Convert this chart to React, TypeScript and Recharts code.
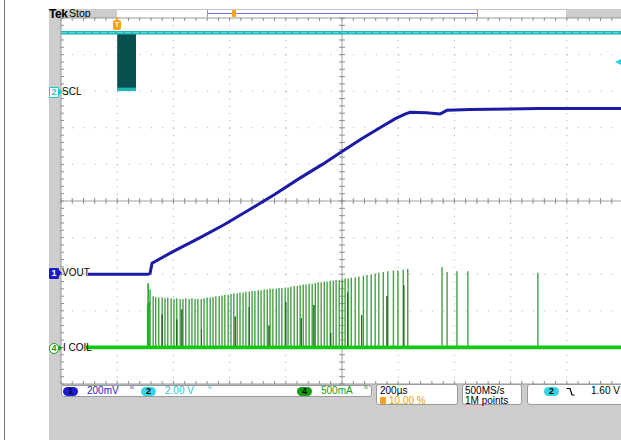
import React from 'react';
import { ComposedChart, Line, XAxis, YAxis, CartesianGrid, ReferenceLine, ReferenceArea } from 'recharts';

// time in µs from the trigger (trigger at 10 %), 200 µs/div, 10 divs
const T_DOMAIN = [-200, 1800];
const T_DIVS = [-200, 0, 200, 400, 600, 800, 1000, 1200, 1400, 1600, 1800];
// ch1 200 mV/div, ground at div 3 -> also used for the graticule rows
const VOUT_DOMAIN = [-0.6, 1.4];
const VOUT_DIVS = [-0.6, -0.4, -0.2, 0, 0.2, 0.4, 0.6, 0.8, 1.0, 1.2, 1.4];
// ch2 2 V/div, ground at div 8
const SCL_DOMAIN = [-16, 4];
// ch4 500 mA/div, ground at div 1
const COIL_DOMAIN = [-0.5, 4.5];

const VOUT = [
    { t: -104, v: 0 }, { t: 110, v: 0 }, { t: 117, v: 0.005 }, { t: 124, v: 0.06 },
    { t: 200, v: 0.125 }, { t: 295, v: 0.2 }, { t: 380, v: 0.27 }, { t: 473, v: 0.355 },
    { t: 560, v: 0.435 }, { t: 650, v: 0.525 }, { t: 730, v: 0.6 }, { t: 800, v: 0.67 },
    { t: 870, v: 0.74 }, { t: 935, v: 0.8 }, { t: 990, v: 0.85 }, { t: 1024, v: 0.875 },
    { t: 1042, v: 0.885 }, { t: 1100, v: 0.882 }, { t: 1149, v: 0.876 }, { t: 1160, v: 0.884 },
    { t: 1174, v: 0.896 }, { t: 1256, v: 0.9 }, { t: 1500, v: 0.905 }, { t: 1800, v: 0.905 },
];

const SCL_HIGH = 3.2;
const SCL_LOW = 0.1;
const SCL_BURST = [0, 67];
const SCL_HI_LINE = [{ t: -200, v: SCL_HIGH }, { t: 1800, v: SCL_HIGH }];
const SCL_LO_LINE = [{ t: SCL_BURST[0], v: SCL_LOW }, { t: SCL_BURST[1], v: SCL_LOW }];

const COIL_BASE = [{ t: -111, v: 0 }, { t: 1800, v: 0 }];

// [time µs, peak A]
const SPIKES = [
    [110, 0.88], [117, 0.79], [128, 0.7], [137, 0.69], [148, 0.68], [160, 0.68], [170, 0.67], [180, 0.68],
    [192, 0.67], [202, 0.66], [212, 0.67], [224, 0.66], [234, 0.66], [244, 0.67], [256, 0.66], [266, 0.67],
    [277, 0.66], [287, 0.66], [299, 0.66], [309, 0.67], [320, 0.68], [331, 0.68], [341, 0.69], [351, 0.7],
    [363, 0.7], [373, 0.71], [383, 0.72], [395, 0.72], [405, 0.73], [415, 0.74], [427, 0.74], [437, 0.75],
    [448, 0.75], [458, 0.76], [470, 0.76], [480, 0.77], [490, 0.77], [502, 0.78], [512, 0.78], [523, 0.79],
    [534, 0.79], [544, 0.8], [554, 0.8], [566, 0.8], [576, 0.81], [586, 0.81], [598, 0.82], [608, 0.82],
    [618, 0.83], [630, 0.84], [641, 0.84], [651, 0.85], [662, 0.86], [672, 0.86], [683, 0.87], [694, 0.87],
    [705, 0.88], [715, 0.89], [726, 0.89], [737, 0.9], [747, 0.9], [758, 0.91], [769, 0.91], [779, 0.92],
    [790, 0.92], [801, 0.93], [811, 0.94], [822, 0.94], [833, 0.95], [847, 0.96], [860, 0.97], [876, 0.98],
    [889, 0.99], [904, 1.0], [918, 1.01], [931, 1.02], [947, 1.03], [963, 1.04], [983, 1.05], [999, 1.05],
    [1018, 1.06], [1034, 1.07], [1156, 1.1], [1174, 1.03], [1209, 1.04], [1248, 1.04], [1497, 1.02],
];

// darker, shorter traces inside the burst
const DARK_SPIKES = [
    [113, 0.62], [160, 0.45], [212, 0.38], [230, 0.52], [300, 0.25], [420, 0.42], [470, 0.55],
    [540, 0.3], [600, 0.62], [655, 0.4], [700, 0.58], [760, 0.2], [820, 0.75], [870, 0.44],
    [960, 0.7], [1020, 0.85],
];

// bright start of the burst
const FIRST_SPIKES = [[108, 0.6], [111, 0.86], [114, 0.55]];

const toTrace = (list: number[][]) => {
    const out: { t: number; v: number }[] = [];
    list.forEach(([t, a]) => {
        out.push({ t, v: 0 }, { t, v: a }, { t, v: 0 });
    });
    return out;
};
const SPIKE_DATA = toTrace(SPIKES);
const DARK_DATA = toTrace(DARK_SPIKES);
const FIRST_DATA = toTrace(FIRST_SPIKES);

// graticule minor ticks: 5 per division
const X_MINOR = Array.from({ length: 51 }, (_, k) => -200 + k * 40);
const Y_MINOR = Array.from({ length: 51 }, (_, k) => -0.6 + k * 0.04);
const T_CENTER = 800;
const V_CENTER = 0.4;
const TX = 10.7;    // ~3px in µs
const TY = 0.0164;  // ~3px in V

const FONT = '"Liberation Sans", Arial, sans-serif';
const GRAT = '#a8a8a8';

const abs = (l: number, t: number, extra: React.CSSProperties = {}): React.CSSProperties => ({
    position: 'absolute', left: l, top: t, ...extra,
});

function Pill({ x, y, bg, n }: { x: number; y: number; bg: string; n: string }) {
    return (
        <div style={abs(x, y, { width: 15, height: 9, borderRadius: 5, background: bg, color: '#000', fontSize: 9, lineHeight: '9px', textAlign: 'center', fontWeight: 700 })}>{n}</div>
    );
}

function ChMarker({ y, n, color, filled, round }: { y: number; n: string; color: string; filled?: boolean; round?: boolean }) {
    return (
        <>
            <div style={abs(49, y - 5, {
                width: 8, height: 9, border: `1px solid ${color}`, borderRadius: round ? 5 : 1,
                background: filled ? color : '#fff', color: filled ? '#fff' : color,
                fontSize: 9, lineHeight: '9px', textAlign: 'center', fontWeight: 700,
            })}>{n}</div>
            <div style={abs(59, y - 3, { width: 0, height: 0, borderTop: '3px solid transparent', borderBottom: '3px solid transparent', borderLeft: `3px solid ${color}` })} />
        </>
    );
}

const BW = ({ x, color }: { x: number; color: string }) => (
    <div style={abs(x, 385, { fontSize: 8, lineHeight: '10px', color, fontFamily: '"DejaVu Sans", sans-serif' })}>ᴺ</div>
);

export default function App() {
    return (
        <div style={abs(0, 0, { width: 621, height: 440, overflow: 'hidden', background: '#fff', fontFamily: FONT })}>
            <div style={abs(4, 0, { width: 1, height: 440, background: '#777' })} />
            <div style={abs(49, 9, { width: 572, height: 431, background: '#cdcdcd' })} />

            {/* top bar */}
            <div style={abs(49, 7.5, { fontSize: 12, lineHeight: '12px', fontWeight: 700, letterSpacing: -0.4 })}>Tek</div>
            <div style={abs(69, 8, { fontSize: 10.5, lineHeight: '11px' })}>Stop</div>
            <div style={abs(117, 9, { width: 449, height: 9, background: '#fff', borderTop: '1px solid #c4c4c4', boxSizing: 'border-box' })} />
            <div style={abs(207, 13, { width: 270, height: 1, background: '#7c7ce6' })} />
            <div style={abs(207, 10, { width: 1, height: 7, background: '#999' })} />
            <div style={abs(477, 10, { width: 1, height: 7, background: '#999' })} />
            <div style={abs(232, 10, { width: 4, height: 7, borderRadius: 1, background: '#f3a21a' })} />

            <div style={abs(0, 0)}>
                <ComposedChart width={640} height={440} margin={{ top: 18, right: 17, bottom: 56, left: 61 }}>
                    <XAxis dataKey="t" type="number" domain={T_DOMAIN} ticks={T_DIVS} hide allowDataOverflow />
                    <YAxis type="number" domain={VOUT_DOMAIN} ticks={VOUT_DIVS} hide allowDataOverflow />
                    <YAxis yAxisId="scl" type="number" domain={SCL_DOMAIN} hide allowDataOverflow />
                    <YAxis yAxisId="coil" type="number" domain={COIL_DOMAIN} hide allowDataOverflow />

                    <CartesianGrid fill="#fff" vertical={false} stroke={GRAT} strokeDasharray="1 10.24" />
                    <CartesianGrid horizontal={false} stroke={GRAT} strokeDasharray="1 6.32" />

                    {/* frame and centre cross */}
                    <ReferenceLine x={T_DOMAIN[0]} stroke="#999" />
                    <ReferenceLine y={VOUT_DOMAIN[0]} stroke="#999" />
                    <ReferenceLine y={VOUT_DOMAIN[1]} stroke="#999" />
                    <ReferenceLine x={T_CENTER} stroke="#a0a0a0" />
                    <ReferenceLine y={V_CENTER} stroke="#a0a0a0" />
                    {Y_MINOR.map((v, i) => (
                        <ReferenceLine key={'cy' + i} stroke="#909090" segment={[{ x: T_CENTER - TX, y: v }, { x: T_CENTER + TX, y: v }]} />
                    ))}
                    {Y_MINOR.map((v, i) => (
                        <ReferenceLine key={'ly' + i} stroke="#909090" segment={[{ x: T_DOMAIN[0], y: v }, { x: T_DOMAIN[0] + TX, y: v }]} />
                    ))}
                    {X_MINOR.map((t, i) => (
                        <ReferenceLine key={'cx' + i} stroke="#909090" segment={[{ x: t, y: V_CENTER - TY }, { x: t, y: V_CENTER + TY }]} />
                    ))}
                    {X_MINOR.map((t, i) => (
                        <ReferenceLine key={'tx' + i} stroke="#909090" segment={[{ x: t, y: VOUT_DOMAIN[1] }, { x: t, y: VOUT_DOMAIN[1] - TY }]} />
                    ))}
                    {X_MINOR.map((t, i) => (
                        <ReferenceLine key={'bx' + i} stroke="#909090" segment={[{ x: t, y: VOUT_DOMAIN[0] }, { x: t, y: VOUT_DOMAIN[0] + TY }]} />
                    ))}

                    {/* SCL burst */}
                    <ReferenceArea yAxisId="scl" x1={SCL_BURST[0]} x2={SCL_BURST[1]} y1={SCL_LOW} y2={SCL_HIGH} fill="#07504e" fillOpacity={1} stroke="none" />
                    <Line yAxisId="scl" data={SCL_HI_LINE} dataKey="v" type="linear" stroke="#1fb6b8" strokeWidth={3.5} dot={false} isAnimationActive={false} />
                    <Line yAxisId="scl" data={SCL_HI_LINE} dataKey="v" type="linear" stroke="#5fdede" strokeWidth={1} strokeDasharray="6 2" dot={false} isAnimationActive={false} />
                    <Line yAxisId="scl" data={SCL_LO_LINE} dataKey="v" type="linear" stroke="#1fb6b8" strokeWidth={3.5} dot={false} isAnimationActive={false} />

                    {/* I COIL */}
                    <Line yAxisId="coil" data={SPIKE_DATA} dataKey="v" type="linear" stroke="#46a046" strokeWidth={1.4} dot={false} isAnimationActive={false} />
                    <Line yAxisId="coil" data={DARK_DATA} dataKey="v" type="linear" stroke="#1f6a1f" strokeWidth={1} dot={false} isAnimationActive={false} />
                    <Line yAxisId="coil" data={FIRST_DATA} dataKey="v" type="linear" stroke="#22b422" strokeWidth={1.3} dot={false} isAnimationActive={false} />
                    <Line yAxisId="coil" data={COIL_BASE} dataKey="v" type="linear" stroke="#14c814" strokeWidth={3.8} dot={false} isAnimationActive={false} />

                    {/* VOUT */}
                    <Line data={VOUT} dataKey="v" type="linear" stroke="#1b1ba6" strokeWidth={3} dot={false} isAnimationActive={false} />
                </ComposedChart>
            </div>

            {/* trigger position + level markers */}
            <div style={abs(116, 17, { width: 2, height: 3, background: '#f3a21a' })} />
            <div style={abs(113, 20, { width: 8, height: 10, borderRadius: 2, background: '#f3a21a', color: '#ffe9b0', fontSize: 8, lineHeight: '10px', textAlign: 'center', fontWeight: 700 })}>T</div>
            <div style={abs(615, 59, { width: 0, height: 0, borderTop: '3px solid transparent', borderBottom: '3px solid transparent', borderRight: '6px solid #22d3e3' })} />

            {/* channel markers */}
            <ChMarker y={92} n="2" color="#22c4d4" />
            <div style={abs(62, 87, { fontSize: 10, lineHeight: '10px' })}>SCL</div>
            <ChMarker y={273} n="1" color="#1c1cc4" filled />
            <div style={abs(62, 268, { fontSize: 10, lineHeight: '10px' })}>VOUT</div>
            <ChMarker y={348} n="4" color="#16a016" round />
            <div style={abs(63, 343, { fontSize: 10, lineHeight: '10px' })}>I COIL</div>

            {/* status bar */}
            <div style={abs(61, 385, { width: 311, height: 12, border: '1px solid #9a9a9a', borderRadius: 3, background: '#fff', boxSizing: 'border-box' })} />
            <Pill x={63} y={387} bg="#1c1cd0" n="1" />
            <div style={abs(87, 386, { fontSize: 10, lineHeight: '10px', color: '#2424c8' })}>200mV</div>
            <BW x={130} color="#3a3acc" />
            <Pill x={141} y={387} bg="#34d4e4" n="2" />
            <div style={abs(165, 386, { fontSize: 10, lineHeight: '10px', color: '#2ec8d8' })}>2.00 V</div>
            <BW x={208} color="#2ec8d8" />
            <Pill x={297} y={387} bg="#129c12" n="4" />
            <div style={abs(321, 386, { fontSize: 10, lineHeight: '10px', color: '#129c12' })}>500mA</div>
            <BW x={364} color="#129c12" />

            <div style={abs(376, 384, { width: 82, height: 21, border: '1px solid #9a9a9a', borderRadius: 3, background: '#fff', boxSizing: 'border-box' })} />
            <div style={abs(380, 386, { fontSize: 10, lineHeight: '10px' })}>200µs</div>
            <div style={abs(380, 397, { width: 6, height: 7, borderRadius: 1, background: '#f3a21a' })} />
            <div style={abs(389, 395.5, { fontSize: 10, lineHeight: '10px', color: '#f0a000' })}>10.00 %</div>

            <div style={abs(462, 384, { width: 60, height: 21, border: '1px solid #9a9a9a', borderRadius: 3, background: '#fff', boxSizing: 'border-box' })} />
            <div style={abs(465, 386, { fontSize: 10, lineHeight: '10px' })}>500MS/s</div>
            <div style={abs(465, 395.5, { fontSize: 10, lineHeight: '10px' })}>1M points</div>

            <div style={abs(527, 384, { width: 100, height: 21, border: '1px solid #9a9a9a', borderRadius: 3, background: '#fff', boxSizing: 'border-box' })} />
            <Pill x={544} y={387} bg="#34d4e4" n="2" />
            <svg style={abs(566, 387)} width={9} height={9}>
                <path d="M0.5 1.5 H4 L6 8 H8.5" fill="none" stroke="#000" strokeWidth={1.2} />
            </svg>
            <div style={abs(591, 386, { fontSize: 10, lineHeight: '10px' })}>1.60 V</div>
        </div>
    );
}
